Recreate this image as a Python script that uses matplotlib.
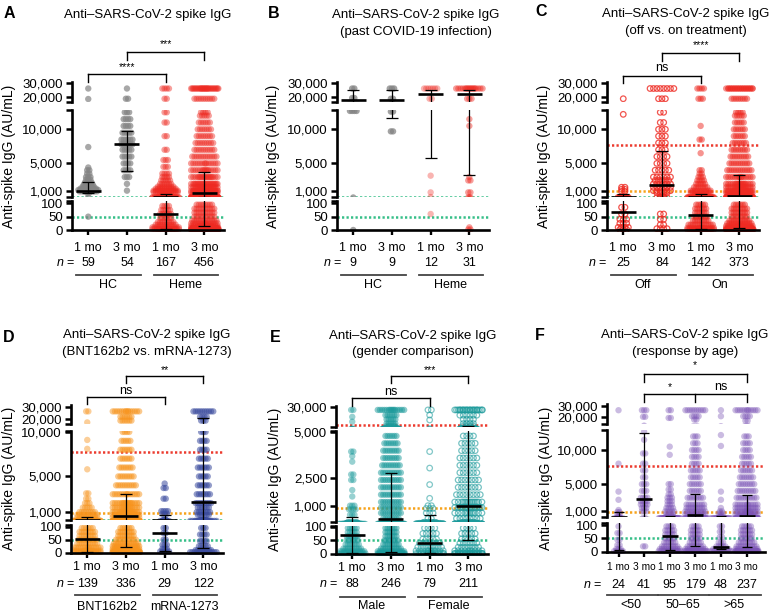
import numpy as np
import matplotlib
matplotlib.use("Agg")
import matplotlib.pyplot as plt
from matplotlib.transforms import blended_transform_factory

plt.rcParams['font.family'] = ['Liberation Sans', 'DejaVu Sans']
plt.rcParams['mathtext.fontset'] = 'custom'
plt.rcParams['mathtext.it'] = 'Liberation Sans:italic'
plt.rcParams['mathtext.rm'] = 'Liberation Sans'

W, H = 769, 615

# seroconversion / neutralization cut-offs (AU/mL)
GREEN_CUT = 50
ORANGE_CUT = 880
RED_CUT = 7700

timepoints = ['1 mo', '3 mo']

# ---- A: healthy controls vs heme malignancy ----
a_groups = ['HC', 'Heme']
a_n = [59, 54, 167, 456]
a_median = [1000, 7850, 59, 610]
a_low = [650, 3940, 3, 16]
a_high = [2300, 9800, 460, 3800]
a_hc_1mo = [(26300, 1), (18800, 1), (7400, 1), (4400, 1), (4000, 2), (3500, 2), (3000, 3), (2600, 3),
            (2200, 4), (1900, 5), (1600, 6), (1300, 8), (1100, 10), (900, 9), (700, 2), (50, 1)]
a_hc_3mo = [(26300, 1), (19000, 2), (12500, 3), (11500, 4), (10500, 4), (9500, 5), (8500, 6), (7800, 6),
            (7000, 5), (6000, 5), (5000, 4), (4000, 4), (3000, 3), (2000, 1), (1000, 1)]
a_heme_1mo = [(26300, 4), (19000, 2), (12500, 2), (11000, 2), (9000, 2), (7000, 2), (5500, 3), (4500, 3),
              (3500, 4), (3000, 4), (2500, 5), (2000, 6), (1600, 8), (1300, 10), (1000, 12), (800, 12),
              (600, 6), (400, 4), (90, 4), (75, 5), (60, 6), (45, 6), (30, 8), (20, 10), (10, 15), (3, 22)]
a_heme_3mo = [(26300, 30), (19000, 10), (12500, 4), (12000, 5), (11000, 6), (10000, 7), (9000, 8),
              (8000, 9), (7000, 10), (6000, 12), (5000, 14), (4000, 16), (3000, 20), (2000, 24),
              (1500, 22), (1000, 25), (700, 20), (400, 12), (95, 8), (80, 10), (65, 10), (50, 10),
              (35, 12), (25, 14), (15, 20), (8, 30), (2, 82)]

# ---- B: past COVID-19 infection ----
b_groups = ['HC', 'Heme']
b_n = [9, 9, 12, 31]
b_median = [18100, 18100, 22100, 22600]
b_low = [17000, 11600, 5800, 3350]
b_high = [25200, 25200, 25200, 25200]
b_hc_1mo = [(26300, 2), (19500, 2), (12700, 4), (0, 1)]
b_hc_3mo = [(26300, 3), (19000, 2), (12600, 2), (9700, 2)]
b_heme_1mo = [(26300, 7), (19000, 2), (3200, 1), (750, 1), (60, 1)]
b_heme_3mo = [(26300, 18), (19000, 3), (11500, 1), (10500, 1), (3000, 1), (2500, 2), (750, 2), (10, 1), (2, 2)]

# ---- C: off vs. on treatment ----
c_groups = ['Off', 'On']
c_n = [25, 84, 142, 373]
c_median = [69, 1830, 56, 265]
c_low = [3, 120, 3, 9]
c_high = [460, 6800, 460, 3300]
c_off_1mo = [(19000, 1), (12200, 1), (1500, 2), (1200, 2), (900, 2), (85, 2), (60, 2), (40, 3), (25, 3),
             (10, 4), (2, 3)]
c_off_3mo = [(26300, 8), (19000, 3), (12500, 2), (11000, 2), (10000, 3), (9000, 3), (8000, 3), (7000, 3),
             (6000, 4), (5000, 4), (4000, 5), (3000, 6), (2500, 5), (2000, 6), (1500, 6), (1000, 6),
             (700, 4), (60, 2), (40, 2), (20, 2), (5, 4)]
c_on_1mo = [(26300, 4), (19000, 3), (10500, 1), (8500, 2), (6500, 1), (4000, 2), (3500, 2), (3000, 3),
            (2500, 4), (2000, 5), (1500, 7), (1000, 10), (700, 10), (400, 6), (95, 5), (80, 6), (65, 6),
            (50, 7), (35, 8), (20, 12), (8, 16), (2, 22)]
c_on_3mo = [(26300, 25), (19000, 8), (12500, 4), (12000, 5), (11000, 5), (10000, 6), (9000, 6),
            (8000, 7), (7000, 8), (6000, 9), (5000, 10), (4000, 12), (3000, 15), (2000, 18), (1500, 18),
            (1000, 20), (700, 18), (400, 12), (95, 6), (80, 8), (65, 8), (50, 8), (35, 10), (25, 12),
            (15, 16), (8, 24), (2, 75)]

# ---- D: BNT162b2 vs. mRNA-1273 ----
d_groups = ['BNT162b2', 'mRNA-1273']
d_n = [139, 336, 29, 122]
d_median = [54, 550, 74, 2120]
d_low = [4, 23, 8, 17]
d_high = [440, 2990, 660, 21000]
d_bnt_1mo = [(26300, 2), (17600, 1), (9100, 1), (8100, 1), (5800, 1), (3100, 2), (2500, 2), (2000, 3),
             (1500, 5), (1000, 8), (700, 10), (400, 10), (95, 6), (80, 8), (65, 8), (50, 9), (35, 10),
             (20, 14), (8, 18), (2, 20)]
d_bnt_3mo = [(26300, 15), (22000, 6), (19000, 6), (10000, 4), (9000, 5), (8000, 6), (7000, 6), (6000, 7),
             (5000, 8), (4000, 10), (3000, 14), (2000, 18), (1500, 18), (1000, 20), (700, 20), (400, 16),
             (95, 6), (80, 8), (65, 8), (50, 10), (35, 12), (25, 14), (15, 16), (8, 22), (2, 61)]
d_mrna_1mo = [(4200, 1), (3700, 2), (2500, 2), (1100, 4), (800, 3), (95, 2), (75, 2), (50, 2), (30, 3),
              (15, 3), (5, 5)]
d_mrna_3mo = [(26300, 10), (22000, 4), (19000, 3), (10000, 3), (9000, 4), (8000, 4), (7000, 5), (6000, 6),
              (5000, 5), (4000, 6), (3000, 7), (2000, 8), (1500, 6), (1000, 7), (700, 6), (95, 3), (70, 4),
              (45, 4), (25, 5), (10, 8), (2, 14)]

# ---- E: gender comparison ----
e_groups = ['Male', 'Female']
e_n = [88, 246, 79, 211]
e_median = [70, 270, 41, 980]
e_low = [5, 9, 5, 51]
e_high = [400, 2800, 490, 7100]
e_male_1mo = [(26300, 2), (18000, 1), (12300, 1), (3950, 2), (3700, 1), (3400, 1), (2700, 2), (2400, 2),
              (1850, 1), (1500, 1), (1000, 3), (800, 4), (500, 3), (95, 5), (80, 5), (65, 6), (50, 6),
              (35, 7), (20, 9), (10, 12), (2, 14)]
e_male_3mo = [(26300, 16), (20000, 6), (15000, 5), (10000, 5), (7000, 5), (4800, 6), (4400, 7), (4000, 8),
              (3600, 8), (3200, 9), (2800, 10), (2400, 10), (2000, 10), (1600, 10), (1200, 10), (900, 10),
              (600, 10), (300, 8), (95, 6), (80, 6), (65, 6), (50, 7), (35, 8), (20, 10), (10, 14), (2, 36)]
e_female_1mo = [(26300, 2), (20200, 1), (14300, 1), (3950, 1), (3050, 1), (2150, 1), (1400, 1), (1000, 2),
                (850, 3), (600, 3), (300, 2), (95, 4), (75, 5), (55, 5), (40, 7), (25, 8), (12, 12), (2, 20)]
e_female_3mo = [(26300, 24), (20000, 6), (15000, 4), (10000, 4), (7000, 4), (4800, 4), (4400, 5), (4000, 5),
                (3600, 6), (3200, 6), (2800, 6), (2400, 7), (2000, 7), (1600, 8), (1200, 14), (900, 16),
                (600, 12), (300, 8), (95, 4), (75, 5), (55, 5), (40, 6), (25, 7), (12, 10), (2, 28)]

# ---- F: response by age ----
f_groups = ['<50', '50–65', '>65']
f_n = [24, 41, 95, 179, 48, 237]
f_median = [220, 2800, 59, 460, 18, 320]
f_low = [8, 220, 6, 22, 10, 16]
f_high = [850, 12500, 320, 3500, 320, 3400]
f_u50_1mo = [(26300, 1), (8000, 1), (3900, 1), (2700, 1), (1200, 1), (900, 2), (600, 2), (95, 1), (70, 2),
             (45, 2), (25, 2), (10, 3), (2, 5)]
f_u50_3mo = [(26300, 3), (20500, 2), (12700, 1), (11500, 1), (9500, 2), (8000, 2), (7000, 2), (6000, 2),
             (5000, 3), (4000, 3), (3000, 4), (2500, 4), (2000, 4), (1500, 3), (1000, 3), (20, 2)]
f_mid_1mo = [(26300, 2), (19500, 2), (10500, 1), (9300, 1), (5000, 2), (4200, 2), (3500, 2), (3000, 3),
             (2500, 3), (2000, 3), (1500, 4), (1000, 5), (600, 4), (95, 4), (80, 5), (65, 5), (50, 5),
             (35, 6), (20, 8), (10, 10), (2, 18)]
f_mid_3mo = [(26300, 10), (21000, 4), (18000, 2), (12000, 3), (11000, 3), (10000, 4), (9000, 4), (8000, 4),
             (7000, 5), (6000, 5), (5000, 6), (4000, 6), (3000, 8), (2000, 9), (1500, 9), (1000, 10),
             (600, 10), (300, 6), (95, 4), (80, 5), (65, 5), (50, 5), (35, 6), (20, 8), (10, 10), (2, 28)]
f_o65_1mo = [(26300, 1), (21000, 1), (12200, 1), (10600, 1), (3900, 1), (2700, 1), (1500, 1), (1000, 2),
             (700, 3), (400, 2), (95, 2), (75, 2), (55, 2), (35, 3), (20, 5), (10, 8), (2, 12)]
f_o65_3mo = [(26300, 12), (21000, 4), (17000, 2), (12000, 3), (11000, 4), (10000, 4), (9000, 5), (8000, 5),
             (7000, 6), (6000, 7), (5000, 8), (4000, 9), (3000, 10), (2000, 12), (1500, 12), (1000, 14),
             (600, 14), (300, 8), (95, 5), (80, 6), (65, 6), (50, 6), (35, 8), (20, 10), (10, 14), (2, 43)]

GRAY, RED, ORANGE = '#848484', '#ee2a22', '#f7941d'
BLUE, TEAL, PURPLE = '#3a4b9e', '#1b9a9b', '#7c55b6'

# broken y axis segments: (ylo, yhi, ref value, ref position, position per unit); positions in 1/3 px
ROW1_SEGS = [(-8, 107, 0, 0, 0.8), (120, 12900, 1000, 118, 0.020444), (16900, 31000, 20000, 398, 0.0042)]
D_SEGS = [(-8, 108, 0, 0, 0.78), (130, 10150, 1000, 122, 0.0267), (16300, 31500, 20000, 400, 0.0038)]
E_SEGS = [(-8, 104, 0, 0, 0.82), (130, 5050, 1000, 145, 0.055), (5500, 31000, 5500, 380, 0.00251)]
F_SEGS = [(-8, 107, 0, 0, 0.8), (100, 12900, 1000, 121, 0.02044), (14100, 31500, 20000, 403, 0.0034)]
STD_TICKS = [[0, 50, 100], [1000, 5000, 10000], [20000, 30000]]
E_TICKS = [[0, 50, 100], [1000, 2500, 5000], [30000]]

panels = [
    dict(letter='A', title=['Anti–SARS-CoV-2 spike IgG'], groups=a_groups, n=a_n,
         levels=[a_hc_1mo, a_hc_3mo, a_heme_1mo, a_heme_3mo], med=a_median, lo=a_low, hi=a_high,
         style=[(GRAY, True, 0.7), (GRAY, True, 0.7), (RED, True, 0.45), (RED, True, 0.45)],
         cuts=[GREEN_CUT],
         brackets=[([0, 2], 74, 82, [(1, '****')], 67), ([1, 3], 52, 60, [(2, '***')], 44.5)],
         left=72, zero=230, ppu=38.7, xlim=(-0.42, 3.52), segs=ROW1_SEGS, ticks=STD_TICKS,
         rows=(248, 263, 275, 285.5), nx=75, tx=148, ty=(15, 32), lx=4, ly=14, ylx=9, yly=156),
    dict(letter='B', title=['Anti–SARS-CoV-2 spike IgG', '(past COVID-19 infection)'], groups=b_groups, n=b_n,
         levels=[b_hc_1mo, b_hc_3mo, b_heme_1mo, b_heme_3mo], med=b_median, lo=b_low, hi=b_high,
         style=[(GRAY, True, 0.75), (GRAY, True, 0.75), (RED, True, 0.35), (RED, True, 0.45)],
         cuts=[GREEN_CUT], brackets=[],
         left=337, zero=230, ppu=38.7, xlim=(-0.42, 3.52), segs=ROW1_SEGS, ticks=STD_TICKS,
         rows=(248, 263, 275, 285.5), nx=342, tx=416, ty=(15, 32), lx=268, ly=13.5, ylx=273, yly=156),
    dict(letter='C', title=['Anti–SARS-CoV-2 spike IgG', '(off vs. on treatment)'], groups=c_groups, n=c_n,
         levels=[c_off_1mo, c_off_3mo, c_on_1mo, c_on_3mo], med=c_median, lo=c_low, hi=c_high,
         style=[(RED, False, 0.8), (RED, False, 0.8), (RED, True, 0.5), (RED, True, 0.5)],
         cuts=[GREEN_CUT, ORANGE_CUT, RED_CUT],
         brackets=[([0, 2], 76, 83, [(1, 'ns')], 68), ([1, 3], 53, 61, [(2, '****')], 45.5)],
         left=607, zero=230, ppu=38.7, xlim=(-0.42, 3.52), segs=ROW1_SEGS, ticks=STD_TICKS,
         rows=(248, 263, 275, 285.5), nx=607, tx=686, ty=(14, 31), lx=535, ly=12, ylx=544, yly=156),
    dict(letter='D', title=['Anti–SARS-CoV-2 spike IgG', '(BNT162b2 vs. mRNA-1273)'], groups=d_groups, n=d_n,
         levels=[d_bnt_1mo, d_bnt_3mo, d_mrna_1mo, d_mrna_3mo], med=d_median, lo=d_low, hi=d_high,
         style=[(ORANGE, True, 0.45), (ORANGE, True, 0.5), (BLUE, True, 0.55), (BLUE, True, 0.55)],
         cuts=[GREEN_CUT, ORANGE_CUT, RED_CUT],
         brackets=[([0, 2], 397, 404, [(1, 'ns')], 391.5), ([1, 3], 376, 383, [(2, '**')], 370)],
         left=71, zero=552.7, ppu=38.7, xlim=(-0.42, 3.52), segs=D_SEGS, ticks=STD_TICKS,
         rows=(567, 584, 595, 607), nx=75, tx=147, ty=(335, 352), lx=3, ly=337.5, ylx=9, yly=478),
    dict(letter='E', title=['Anti–SARS-CoV-2 spike IgG', '(gender comparison)'], groups=e_groups, n=e_n,
         levels=[e_male_1mo, e_male_3mo, e_female_1mo, e_female_3mo], med=e_median, lo=e_low, hi=e_high,
         style=[(TEAL, True, 0.45), (TEAL, True, 0.5), (TEAL, False, 0.55), (TEAL, False, 0.6)],
         cuts=[GREEN_CUT, ORANGE_CUT, RED_CUT],
         brackets=[([0, 2], 398.3, 406, [(1, 'ns')], 392), ([1, 3], 376, 383, [(2, '***')], 370.5)],
         left=336, zero=554, ppu=38.7, xlim=(-0.42, 3.52), segs=E_SEGS, ticks=E_TICKS,
         rows=(568, 584, 597, 606), nx=338, tx=413, ty=(335.5, 352.5), lx=270, ly=337, ylx=275, yly=479),
    dict(letter='F', title=['Anti–SARS-CoV-2 spike IgG', '(response by age)'], groups=f_groups, n=f_n,
         levels=[f_u50_1mo, f_u50_3mo, f_mid_1mo, f_mid_3mo, f_o65_1mo, f_o65_3mo],
         med=f_median, lo=f_low, hi=f_high,
         style=[(PURPLE, True, 0.4)] * 6,
         cuts=[GREEN_CUT, ORANGE_CUT, RED_CUT],
         brackets=[([1, 5], 374, 381.7, [(3, '*')], 365),
                   ([1, 3, 5], 394, 401.7, [(2, '*'), (4, 'ns')], 387.5)],
         left=607, zero=551.7, ppu=25.6, xlim=(-0.45, 5.72), segs=F_SEGS, ticks=STD_TICKS,
         rows=(567, 585, 595, 605), nx=602, tx=685, ty=(335, 352), lx=535, ly=336, ylx=546, yly=478,
         small=True),
]


def fx(px):
    return px / W


def fy(px):
    return 1 - px / H


def pos(v, seg):
    lo, hi, rv, rp, slope = seg
    return rp + (v - rv) * slope


def swarm(levels, x0, step, half):
    nslot = 2 * int(half / step) + 1
    xs, ys = [], []
    for value, count in levels:
        for i in range(count):
            row, k = divmod(i, nslot)
            m = min(count - row * nslot, nslot)
            off = (k - (m - 1) / 2) * step + (step / 2 if row % 2 else 0.0)
            xs.append(x0 + max(-half, min(half, off)))
            ys.append(value)
    return np.array(xs), np.array(ys)


fig = plt.figure(figsize=(W / 100, H / 100), dpi=100)
CUT_COLORS = {GREEN_CUT: '#35bf88', ORANGE_CUT: '#f7a21b', RED_CUT: '#ec3b2e'}

for p in panels:
    small = p.get('small', False)
    ppu = p['ppu']
    width = (p['xlim'][1] - p['xlim'][0]) * ppu
    ngrp = len(p['n'])
    xg = np.arange(ngrp)
    axes = []
    for si, seg in enumerate(p['segs']):
        b_px = p['zero'] - pos(seg[0], seg) / 3
        t_px = p['zero'] - pos(seg[1], seg) / 3
        ax = fig.add_axes([fx(p['left']), fy(b_px), fx(width), (b_px - t_px) / H])
        ax.set_xlim(p['xlim'])
        ax.set_ylim(seg[0], seg[1])
        ax.patch.set_alpha(0)
        for s in ['top', 'right']:
            ax.spines[s].set_visible(False)
        ax.spines['left'].set_linewidth(1.9)
        if si == 0:
            ax.spines['bottom'].set_position(('data', 0))
            ax.spines['bottom'].set_linewidth(1.9)
            ax.spines['left'].set_bounds(0, seg[1])
            ax.set_xticks(xg)
            ax.set_xticklabels([])
            ax.tick_params(axis='x', direction='out', length=3.5, width=1.7)
            ends = [seg[1]]
        else:
            ax.spines['bottom'].set_visible(False)
            ax.set_xticks([])
            ends = [seg[0]] if si == 2 else [seg[0], seg[1]]
        ax.set_yticks(p['ticks'][si])
        ax.set_yticklabels([f'{t:,}' for t in p['ticks'][si]])
        ax.set_yticks(ends, minor=True)
        ax.tick_params(axis='y', which='both', direction='out', length=4, width=1.8,
                       labelsize=9.5, pad=2.5)
        axes.append(ax)

    half = (12 if small else 14) / ppu
    med_half = (8 if small else 12.5) / ppu
    cap_half = (5 if small else 6) / ppu
    for ax in axes:
        for c in p['cuts']:
            ax.axhline(c, color=CUT_COLORS[c], lw=1.8, ls=(0, (0.9, 0.9)), zorder=1)
        for g in range(ngrp):
            col, filled, alpha = p['style'][g]
            step = (2.2 if filled else 3.4) / ppu
            xs, ys = swarm(p['levels'][g], xg[g], step, half)
            if filled:
                ax.scatter(xs, ys, s=21, color=col, alpha=alpha, edgecolors='none', zorder=2)
            else:
                ax.scatter(xs, ys, s=16, facecolors='none', edgecolors=col, alpha=alpha,
                           linewidths=0.9, zorder=2)
            ax.vlines(xg[g], p['lo'][g], p['hi'][g], color='black', lw=0.9, zorder=3)
            ax.hlines([p['lo'][g], p['hi'][g]], xg[g] - cap_half, xg[g] + cap_half,
                      color='black', lw=0.9, zorder=3)
            ax.hlines(p['med'][g], xg[g] - med_half, xg[g] + med_half, color='black', lw=1.9, zorder=4)

    bot, top = axes[0], axes[2]
    tb = blended_transform_factory(bot.transData, fig.transFigure)
    tt = blended_transform_factory(top.transData, fig.transFigure)
    r_tick, r_n, r_line, r_grp = p['rows']
    fs = 7.3 if small else 9
    for g in range(ngrp):
        bot.text(xg[g], fy(r_tick), timepoints[g % 2], transform=tb, ha='center', va='center', fontsize=fs)
        bot.text(xg[g], fy(r_n), str(p['n'][g]), transform=tb, ha='center', va='center', fontsize=9)
    fig.text(fx(p['nx']), fy(r_n), '$n$ =', ha='right', va='center', fontsize=9)
    for k, name in enumerate(p['groups']):
        x1 = 2 * k - 12 / ppu
        x2 = 2 * k + 1 + 14 / ppu
        bot.plot([x1, x2], [fy(r_line)] * 2, transform=tb, color='#444444', lw=1.3, clip_on=False)
        bot.text(2 * k + 0.5, fy(r_grp), name, transform=tb, ha='center', va='center', fontsize=9)

    for legs, ybar, yleg, labels, ytxt in p['brackets']:
        top.plot([legs[0], legs[-1]], [fy(ybar)] * 2, transform=tt, color='black', lw=1.0, clip_on=False)
        for lg in legs:
            top.plot([lg, lg], [fy(ybar), fy(yleg)], transform=tt, color='black', lw=1.0, clip_on=False)
        for xt, lab in labels:
            top.text(xt, fy(ytxt), lab, transform=tt, ha='center', va='center',
                     fontsize=9 if lab == 'ns' else 7.5)

    for i, line in enumerate(p['title']):
        fig.text(fx(p['tx']), fy(p['ty'][i]), line, ha='center', va='center', fontsize=9.5)
    fig.text(fx(p['lx']), fy(p['ly']), p['letter'], ha='left', va='center', fontsize=11.5, fontweight='bold')
    fig.text(fx(p['ylx']), fy(p['yly']), 'Anti-spike IgG (AU/mL)', rotation=90,
             ha='center', va='center', fontsize=10)

fig.savefig('out.png', dpi=100)
